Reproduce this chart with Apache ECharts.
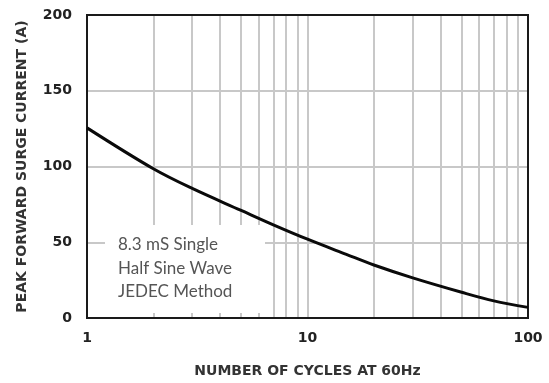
<!DOCTYPE html>
<html>
<head>
<meta charset="utf-8">
<script src="https://cdn.jsdelivr.net/npm/echarts@6/dist/echarts.min.js"></script>
<style>html,body{margin:0;padding:0;background:#fff;}#c{width:549px;height:383px;}</style>
</head>
<body>
<div id="c"></div>
<script>
// Data
var cycles  = [1, 2, 3, 5, 7, 10, 15, 20, 30, 50, 70, 100];
var current = [125.5, 98.5, 85.5, 71, 61.5, 52, 42, 35, 26.5, 17, 11.3, 7];
var xGridValues = [2, 3, 4, 5, 6, 7, 8, 9, 10, 20, 30, 40, 50, 60, 70, 80, 90];
var yGridValues = [50, 100, 150];
var yTicks = [0, 50, 100, 150, 200];
var noteLines = ['8.3 mS Single', 'Half Sine Wave', 'JEDEC Method'];

var chart = echarts.init(document.getElementById('c'), null, {renderer: 'canvas'});
var gridMarks = xGridValues.map(function (v) { return {xAxis: v}; })
  .concat(yGridValues.map(function (v) { return {yAxis: v}; }));

chart.setOption({
  animation: false,
  backgroundColor: '#fff',
  grid: {left: 87, right: 21, top: 15, bottom: 64, show: true, borderColor: '#1a1a1a', borderWidth: 2, zlevel: 2, backgroundColor: 'transparent'},
  xAxis: {
    type: 'log', logBase: 10, min: 1, max: 100, zlevel: 2,
    name: 'NUMBER OF CYCLES AT 60Hz', nameLocation: 'middle', nameGap: 46,
    nameTextStyle: {fontFamily: 'DejaVu Sans', fontWeight: 'bold', fontSize: 14, color: '#333'},
    axisLine: {show: true, lineStyle: {color: '#1a1a1a', width: 2}},
    axisTick: {show: false},
    splitLine: {show: false},
    axisLabel: {fontFamily: 'DejaVu Sans', fontWeight: 'bold', fontSize: 14, color: '#222', margin: 13}
  },
  yAxis: {
    type: 'value', min: 0, max: 200, interval: 50, zlevel: 2,
    name: 'PEAK FORWARD SURGE CURRENT (A)', nameLocation: 'middle', nameGap: 58, nameRotate: 90,
    nameTextStyle: {fontFamily: 'DejaVu Sans', fontWeight: 'bold', fontSize: 14, color: '#333'},
    axisLine: {show: true, lineStyle: {color: '#1a1a1a', width: 2}},
    axisTick: {show: false},
    splitLine: {show: false},
    axisLabel: {fontFamily: 'DejaVu Sans', fontWeight: 'bold', fontSize: 14, color: '#222', margin: 15,
      customValues: yTicks}
  },
  graphic: [{
    type: 'group', left: 105, top: 225, zlevel: 1,
    children: [
      {type: 'rect', zlevel: 1, shape: {x: 0, y: 0, width: 160, height: 88}, style: {fill: '#fff'}},
      {type: 'text', zlevel: 1, x: 13, y: 8, style: {text: noteLines.join('\n'), fill: '#555', font: '17px Lato', lineHeight: 23.5}}
    ]
  }],
  series: [
    {
      type: 'line', data: [], zlevel: 0, silent: true,
      markLine: {silent: true, symbol: 'none', label: {show: false},
        lineStyle: {color: '#c8c8c8', width: 2, type: 'solid'}, data: gridMarks, animation: false}
    },
    {
      type: 'line', zlevel: 2, smooth: 0.35, showSymbol: false,
      data: cycles.map(function (c, i) { return [c, current[i]]; }),
      lineStyle: {color: '#0a0a0a', width: 3}
    }
  ]
});
</script>
</body>
</html>
